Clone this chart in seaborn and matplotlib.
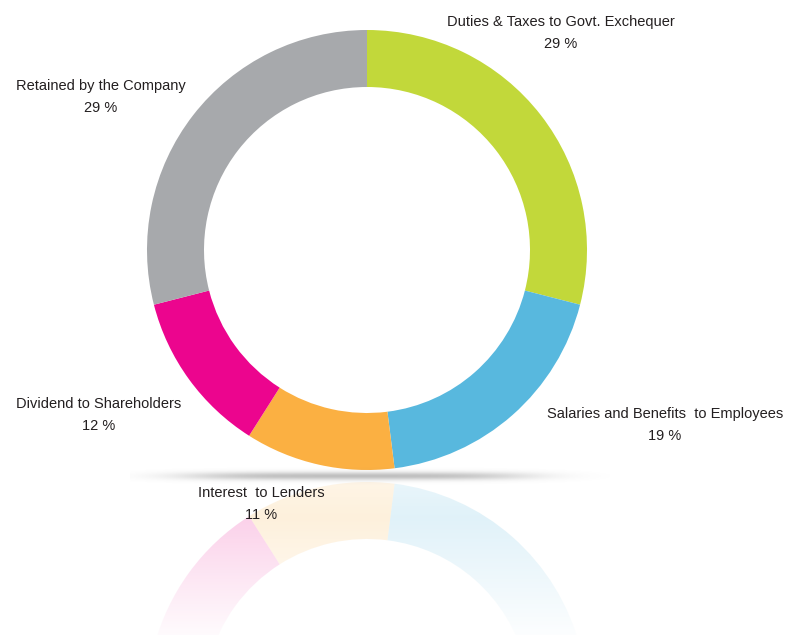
import numpy as np
import matplotlib
matplotlib.use("Agg")
import matplotlib.pyplot as plt
import seaborn as sns

categories = ["Duties & Taxes to Govt. Exchequer", "Salaries and Benefits  to Employees",
              "Interest  to Lenders", "Dividend to Shareholders", "Retained by the Company"]
values = [29, 19, 11, 12, 29]
pct_labels = ["29 %", "19 %", "11 %", "12 %", "29 %"]
colors = ["#C2D83A", "#58B8DE", "#FBB042", "#EC058E", "#A7A9AC"]

sns.set_theme(style="white")
plt.rcParams['font.family'] = ['Liberation Sans Narrow', 'Liberation Sans', 'DejaVu Sans']
palette = sns.color_palette(colors)

W, H = 790, 635
fig = plt.figure(figsize=(7.9, 6.35), dpi=100)
ax = fig.add_axes([0, 0, 1, 1])

cx, cy, R = 367, H - 250, 220
ring = 57

# reflection (mirrored donut)
mirror_y = H - 476
rcy = 2 * mirror_y - cy
ax.pie(values, colors=palette, startangle=-90, counterclock=True, radius=R, center=(cx, rcy),
       wedgeprops=dict(width=ring, linewidth=0, alpha=0.3), frame=True)

# fade gradient over reflection (row 0 = just below the mirror line)
grad = np.concatenate([np.linspace(0.6, 0.4, 50), np.linspace(0.4, 0.95, 150)])[:, None]
rgba = np.ones((200, 2, 4))
rgba[..., 3] = np.repeat(grad, 2, axis=1)
ax.imshow(rgba, extent=(0, W, 0, mirror_y - 2), origin="upper", aspect="auto", zorder=3)

# shadow line
xs = np.linspace(0, 1, 400)
ys = np.linspace(-1, 1, 40)
X, Y = np.meshgrid(xs, ys)
horiz = np.exp(-((X - 0.47) / 0.36) ** 4)
vert = np.exp(-(Y / 0.45) ** 2)
sh = np.zeros((40, 400, 4))
sh[..., :3] = 0.5
sh[..., 3] = 0.5 * horiz * vert
ax.imshow(sh, extent=(130, 610, mirror_y - 9, mirror_y + 9), aspect="auto", zorder=4)

# main donut
ax.pie(values, colors=palette, startangle=90, counterclock=False, radius=R, center=(cx, cy),
       wedgeprops=dict(width=ring, linewidth=0), frame=True)
ax.set_xlim(0, W)
ax.set_ylim(0, H)
ax.set_aspect("equal")
ax.axis("off")

label_pos = [(561, 33), (665, 425), (261, 504), (99, 415), (101, 97)]
for cat, pct, (lx, ly) in zip(categories, pct_labels, label_pos):
    ax.text(lx, H - ly, f"{cat}\n{pct}", ha="center", va="center", multialignment="center",
            fontsize=10.5, color="#231F20", linespacing=1.75, zorder=6)

fig.savefig("out.png", dpi=100, facecolor="white")
